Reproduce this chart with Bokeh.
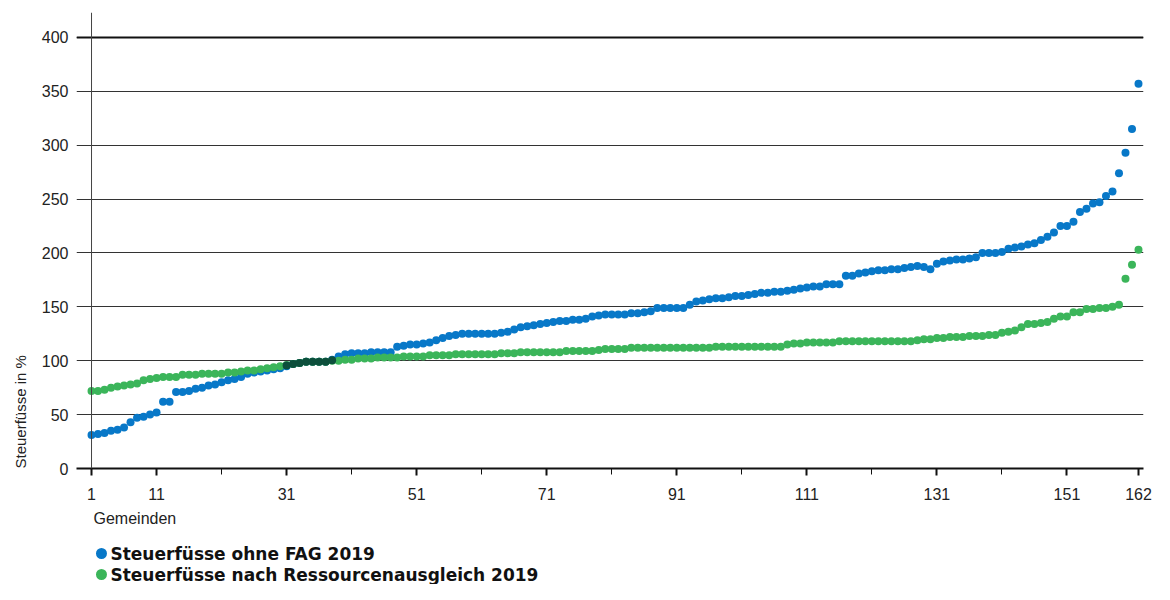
from bokeh.plotting import figure
from bokeh.layouts import column
from bokeh.models import (ColumnDataSource, Range1d, FixedTicker, Span, Title)
from bokeh.core.properties import value
from bokeh.embed import file_html
from bokeh.resources import INLINE

# ---------------- data ----------------
gemeinden = list(range(1, 163))

ohne_fag = [
    31, 32, 33, 35, 36, 38, 43, 47, 48, 50,
    52, 62, 62, 71, 71, 72, 74, 75, 77, 78,
    80, 82, 83, 85, 88, 89, 90, 91, 92, 93,
    95, 97, 98, 99, 99, 99, 99, 101, 104, 106,
    107, 107, 107, 108, 108, 108, 108, 113, 114, 115,
    115, 116, 117, 119, 121, 123, 124, 125, 125, 125,
    125, 125, 125, 126, 127, 129, 131, 132, 133, 134,
    135, 136, 137, 137, 138, 138, 139, 141, 142, 143,
    143, 143, 143, 144, 144, 145, 146, 149, 149, 149,
    149, 149, 152, 155, 156, 157, 158, 158, 159, 160,
    160, 161, 162, 163, 163, 164, 164, 165, 166, 167,
    168, 169, 169, 171, 171, 171, 179, 179, 181, 182,
    183, 184, 184, 185, 185, 186, 187, 188, 187, 185,
    190, 192, 193, 194, 194, 195, 196, 200, 200, 200,
    201, 204, 205, 206, 208, 209, 212, 215, 219, 225,
    225, 229, 238, 241, 246, 247, 253, 257, 274, 293,
    315, 357,
]

nach_ra = [
    72, 72, 73, 75, 76, 77, 78, 79, 82, 83,
    84, 85, 85, 85, 87, 87, 87, 88, 88, 88,
    88, 89, 89, 90, 91, 91, 92, 93, 94, 95,
    96, 97, 98, 99, 99, 99, 99, 100, 100, 101,
    101, 102, 102, 102, 103, 103, 103, 103, 104, 104,
    104, 104, 105, 105, 105, 105, 106, 106, 106, 106,
    106, 106, 106, 107, 107, 107, 108, 108, 108, 108,
    108, 108, 108, 109, 109, 109, 109, 109, 110, 111,
    111, 111, 111, 112, 112, 112, 112, 112, 112, 112,
    112, 112, 112, 112, 112, 112, 113, 113, 113, 113,
    113, 113, 113, 113, 113, 113, 113, 115, 116, 116,
    117, 117, 117, 117, 117, 118, 118, 118, 118, 118,
    118, 118, 118, 118, 118, 118, 118, 119, 120, 120,
    121, 121, 122, 122, 122, 123, 123, 123, 124, 124,
    126, 127, 128, 131, 134, 134, 135, 136, 139, 141,
    141, 145, 145, 148, 148, 149, 149, 150, 152, 176,
    189, 203,
]

x_ticks = [1, 11, 31, 51, 71, 91, 111, 131, 151, 162]
x_minor = [21, 41, 61, 81, 101, 121, 141]
y_ticks = [0, 50, 100, 150, 200, 250, 300, 350, 400]

series_labels = ["Steuerfüsse ohne FAG 2019",
                 "Steuerfüsse nach Ressourcenausgleich 2019"]
x_title = "Gemeinden"
y_title = "Steuerfüsse in %"

BLUE = "#0878c8"
GREEN = "#3bb55a"
DARK = "#0d4f3c"
FONT = "Liberation Sans"
series_colors = [BLUE, GREEN]

# ---------------- main figure ----------------
p = figure(width=1154, height=532, output_backend="svg", toolbar_location=None,
           title=None, x_range=Range1d(-1.31, 162.77), y_range=Range1d(0, 423.2),
           min_border_left=75, min_border_right=11, min_border_top=12,
           min_border_bottom=64)
p.outline_line_color = None
p.background_fill_color = "white"
p.border_fill_color = "white"

p.xgrid.visible = False
p.ygrid.ticker = FixedTicker(ticks=y_ticks)
p.ygrid.grid_line_color = "#333333"
p.ygrid.grid_line_width = 1

# y axis
p.yaxis.ticker = FixedTicker(ticks=y_ticks)
p.yaxis.axis_line_color = None
p.yaxis.major_tick_line_color = None
p.yaxis.major_tick_out = 0
p.yaxis.major_tick_in = 0
p.yaxis.minor_tick_line_color = None
p.yaxis.minor_tick_out = 0
p.yaxis.major_label_standoff = 8
p.yaxis.major_label_text_font = FONT
p.yaxis.major_label_text_font_size = "16px"
p.yaxis.major_label_text_color = "#222222"

# x axis
p.xaxis.ticker = FixedTicker(ticks=x_ticks, minor_ticks=x_minor)
p.xaxis.axis_line_color = "#111111"
p.xaxis.axis_line_width = 2
p.xaxis.major_tick_out = 7
p.xaxis.major_tick_in = 0
p.xaxis.major_tick_line_width = 2
p.xaxis.major_tick_line_color = "#111111"
p.xaxis.minor_tick_out = 6
p.xaxis.minor_tick_in = 0
p.xaxis.minor_tick_line_width = 1
p.xaxis.minor_tick_line_color = "#111111"
p.xaxis.major_label_standoff = 12
p.xaxis.major_label_text_font = FONT
p.xaxis.major_label_text_font_size = "16px"
p.xaxis.major_label_text_color = "#222222"

# top line (400) and vertical axis line
p.add_layout(Span(location=400, dimension="width", line_color="#111111", line_width=2))
p.add_layout(Span(location=1, dimension="height", line_color="#444444", line_width=1))

# data
src = ColumnDataSource(dict(x=gemeinden, blue=ohne_fag, green=nach_ra))
p.scatter("x", "blue", source=src, size=8, fill_color=BLUE, line_color=None)
p.scatter("x", "green", source=src, size=8, fill_color=GREEN, line_color=None)

# overlap points (where both series coincide the print shows a dark blend)
ov_x = [g for g, b, n in zip(gemeinden, ohne_fag, nach_ra) if abs(b - n) <= 1]
ov_y = [(b + n) / 2 for b, n in zip(ohne_fag, nach_ra) if abs(b - n) <= 1]
p.scatter(ov_x, ov_y, size=8, fill_color=DARK, line_color=None)

# axis titles
p.add_layout(Title(text=y_title, align="left", standoff=19, text_font=FONT,
                   text_font_size="15px", text_font_style="normal",
                   text_color="#222222"), "left")
p.add_layout(Title(text=x_title, align="left", offset=17, text_font=FONT,
                   text_font_size="16px", text_font_style="normal",
                   text_color="#222222"), "below")

# ---------------- legend strip (keys + labels) ----------------
# the column layout aligns this strip's frame with the main frame (75..1143 px)
q = figure(width=1154, height=52, output_backend="svg", toolbar_location=None,
           title=None, x_range=Range1d(75, 1143), y_range=Range1d(52, 0),
           x_axis_location=None, y_axis_location=None,
           min_border_left=75, min_border_right=11, min_border_top=0,
           min_border_bottom=0)
q.grid.visible = False
q.outline_line_color = None
q.border_fill_color = "white"
q.background_fill_color = "white"

leg = ColumnDataSource(dict(kx=[100, 100], ky=[21, 42], tx=[109, 109],
                            label=series_labels, color=series_colors))
q.scatter("kx", "ky", source=leg, size=11, fill_color="color", line_color=None)
q.text("tx", "ky", text="label", source=leg, text_align="left",
       text_baseline="middle", text_font=value("DejaVu Sans"),
       text_font_style="bold", text_font_size="17px", text_color="#111111")

open("out.html", "w").write(file_html(column(p, q, spacing=0), INLINE))
